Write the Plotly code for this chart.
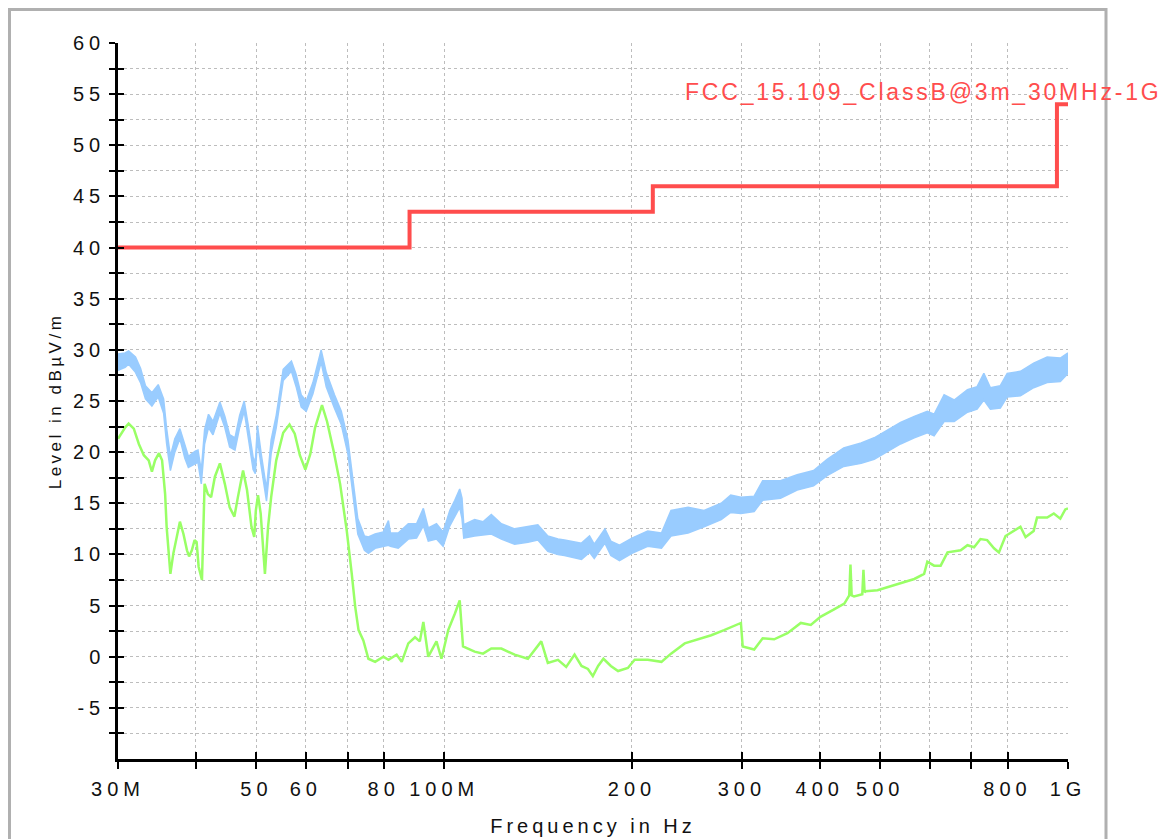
import math
import plotly.graph_objects as go

# ---------------- data (frequencies in MHz, levels in dBuV/m) ----------------
peak_freq_mhz = [30.0, 30.8, 31.2, 32.0, 32.6, 33.2, 34.0, 34.8, 35.5, 35.9, 36.4, 37.0, 37.7, 38.4, 38.9,
                 39.9, 40.3, 40.8, 41.3, 41.9, 42.6, 43.7, 44.5, 45.3, 46.2, 47.0, 47.8, 48.5, 49.4, 49.8,
                 50.2, 50.9, 51.9, 52.8, 53.8, 55.2, 56.9, 57.9, 59.0, 60.1, 61.6, 63.5, 64.7, 66.7, 68.4,
                 70.1, 71.4, 72.7, 74.5, 75.6, 77.5, 79.9, 81.4, 82.0, 84.4, 87.6, 90.3, 92.6, 94.3, 97.2,
                 99.6, 102.1, 104.0, 105.9, 106.8, 107.5, 111.9, 115.4, 119.0, 123.5, 129.7, 136.2, 141.3,
                 146.6, 152.2, 155.9, 163.8, 166.0, 171.0, 174.0, 181.0, 185.0, 191.0, 200.0, 212.0, 223.0,
                 231.0, 246.0, 261.0, 278.0, 288.0, 299.0, 314.0, 324.0, 346.0, 368.0, 391.0, 411.0, 437.0,
                 466.0, 489.0, 514.0, 539.0, 567.0, 595.0, 610.0, 633.0, 657.0, 690.0, 715.0, 733.0, 751.0,
                 779.0, 799.0, 839.0, 881.0, 926.0, 972.0, 1000.0]
peak_upper = [29.6, 29.7, 29.9, 29.3, 28.2, 26.5, 25.8, 26.6, 25.2, 22.3, 19.6, 21.3, 22.3, 20.6, 19.6,
              20.1, 20.2, 18.2, 22.2, 23.7, 23.0, 24.9, 23.5, 21.7, 21.4, 23.6, 25.0, 22.7, 19.5, 19.0,
              22.6, 19.8, 16.4, 21.2, 23.6, 28.1, 28.9, 27.6, 25.6, 25.0, 26.8, 30.0, 27.8, 25.6, 24.0,
              21.2, 17.4, 13.5, 11.8, 11.7, 12.0, 12.2, 13.3, 12.1, 12.1, 13.0, 13.0, 14.5, 12.6, 13.0,
              12.2, 14.3, 15.3, 16.4, 15.5, 12.9, 13.4, 13.2, 13.9, 13.0, 12.5, 12.7, 12.9,
              11.8, 11.5, 11.4, 11.2, 11.1, 11.8, 11.0, 12.5, 11.3, 10.9, 11.6, 12.3, 12.1,
              14.3, 14.6, 14.3, 15.0, 15.8, 15.6, 15.7, 17.2, 17.2, 17.8, 18.2, 19.3, 20.4,
              20.9, 21.4, 22.2, 22.9, 23.5, 24.0, 23.7, 25.6, 25.1, 26.1, 26.4, 27.7, 26.3,
              26.5, 27.7, 27.9, 28.7, 29.3, 29.2, 29.7]
peak_lower = [28.0, 28.3, 28.6, 27.8, 26.8, 25.2, 24.5, 25.4, 23.8, 20.8, 18.2, 20.0, 21.3, 19.4, 18.5,
              18.9, 19.0, 16.9, 20.8, 22.4, 21.7, 23.8, 22.4, 20.5, 20.2, 22.4, 24.0, 21.5, 18.3, 17.9,
              21.2, 18.6, 15.2, 19.9, 22.4, 27.0, 27.9, 26.4, 24.4, 24.0, 25.7, 28.8, 26.4, 24.3, 22.7,
              19.8, 15.8, 12.0, 10.4, 10.1, 10.6, 10.8, 10.9, 10.8, 10.6, 11.5, 11.6, 12.8, 11.3, 11.5,
              10.8, 12.8, 13.7, 14.6, 13.5, 11.6, 11.8, 11.9, 12.0, 11.5, 11.0, 11.2, 11.4,
              10.3, 10.0, 9.9, 9.6, 9.5, 10.2, 9.6, 11.1, 9.9, 9.4, 10.1, 10.8, 10.6,
              11.8, 12.1, 12.7, 13.4, 14.1, 14.0, 14.2, 15.3, 15.5, 16.3, 16.7, 17.7, 18.6,
              18.9, 19.3, 20.1, 20.8, 21.4, 21.9, 21.6, 23.0, 23.0, 23.9, 24.2, 25.1, 24.2,
              24.3, 25.4, 25.5, 26.3, 26.8, 26.9, 27.7]

avg_freq_mhz = [30.0, 30.8, 31.2, 31.8, 32.4, 33.0, 33.6, 34.0, 34.4, 34.9, 35.3, 35.7, 35.9, 36.1, 36.4,
                36.8, 37.3, 37.7, 38.2, 38.7, 39.0, 39.4, 39.8, 40.1, 40.4, 40.9, 41.3, 41.8, 42.3, 42.9,
                43.7, 44.5, 45.3, 46.1, 46.7, 47.6, 48.3, 49.1, 49.6, 49.9, 50.3, 50.8, 51.6, 52.2, 52.8,
                53.8, 55.2, 56.5, 57.6, 58.7, 59.9, 61.0, 62.1, 63.7, 64.9, 66.5, 68.1, 69.8, 71.1, 72.0,
                72.9, 74.2, 75.6, 77.5, 79.9, 81.4, 83.9, 85.5, 87.6, 89.8, 91.4, 92.6, 94.3, 97.2, 99.0,
                101.5, 104.0, 105.9, 107.2, 111.9, 115.4, 119.0, 123.5, 129.7, 136.2, 143.1, 146.6, 152.2,
                156.9, 161.8, 166.0, 170.0, 173.1, 176.5, 180.0, 185.0, 190.0, 197.0, 202.0, 212.0, 223.0,
                231.0, 243.0, 255.0, 268.0, 281.0, 295.0, 299.0, 301.0, 314.0, 324.0, 338.0, 355.0, 373.0,
                387.0, 401.0, 421.0, 438.0, 446.0, 448.0, 450.0, 454.0, 468.0, 470.0, 472.0, 474.0, 495.0,
                514.0, 539.0, 567.0, 588.0, 595.0, 610.0, 625.0, 641.0, 673.0, 690.0, 707.0, 724.0, 742.0,
                761.0, 775.0, 794.0, 819.0, 839.0, 855.0, 881.0, 892.0, 926.0, 949.0, 972.0, 990.0, 1000.0]
avg_level = [21.3, 22.4, 22.8, 22.3, 20.8, 19.7, 19.2, 18.1, 19.2, 19.9, 19.2, 15.9, 12.7, 10.4, 8.1,
             10.1, 12.0, 13.2, 12.0, 10.4, 9.8, 10.4, 11.4, 11.2, 8.8, 7.5, 16.9, 15.9, 15.6, 17.6,
             18.9, 16.9, 14.6, 13.7, 15.6, 18.2, 16.3, 12.7, 11.7, 14.3, 15.8, 14.0, 8.1, 12.7, 15.6,
             19.2, 21.9, 22.7, 21.8, 19.7, 18.3, 19.8, 22.4, 24.6, 23.0, 20.1, 16.9, 12.3, 8.1, 4.9,
             2.6, 1.6, -0.2, -0.5, 0.0, -0.3, 0.2, -0.5, 1.3, 1.9, 1.5, 3.4, 0.0, 1.5, -0.2,
             2.6, 4.2, 5.5, 1.0, 0.5, 0.3, 0.8, 0.8, 0.2, -0.2, 1.5, -0.6, -0.3,
             -1.0, 0.2, -0.9, -1.2, -1.9, -0.9, -0.2, -0.9, -1.4, -1.1, -0.3, -0.3, -0.5,
             0.3, 1.3, 1.7, 2.1, 2.6, 3.1, 3.3, 1.0, 0.7, 1.8, 1.7, 2.3, 3.3,
             3.1, 3.9, 4.6, 5.2, 6.0, 9.0, 6.0, 5.9, 6.1, 8.5, 6.3, 6.4, 6.5,
             6.8, 7.2, 7.6, 8.1, 9.3, 8.9, 8.9, 10.2, 10.4, 10.9, 10.7, 11.5, 11.4,
             10.6, 10.2, 11.8, 12.3, 12.7, 11.7, 12.3, 13.6, 13.6, 14.0, 13.5, 14.4, 14.5]

limit_freq_mhz = [30.0, 88.0, 216.0, 960.0, 1000.0]
limit_level = [40.0, 43.5, 46.0, 54.0, 54.0]
limit_name = "FCC_15.109_ClassB@3m_30MHz-1GHz"

x_tickvals = [30, 40, 50, 60, 70, 80, 100, 200, 300, 400, 500, 600, 700, 800, 1000]
x_ticktext = ["30M", "", "50", "60", "", "80", "100M", "200", "300", "400", "500", "", "", "800", "1G"]
y_tickvals = [-7.5 + 2.5 * i for i in range(28)]
y_ticktext = [("%g" % v) if v % 5 == 0 else "" for v in y_tickvals]

# ---------------- styling ----------------
FONT = "Liberation Sans, Arial, sans-serif"
TXT = "#111111"
BLUE = "#99CCFF"
GREEN = "#99FF66"
RED = "#FF4D4D"
GRID = "#bdbdbd"

# plot area on screen (page has an 8px body margin): x 118..1068, y 43..759
L, R, T, B = 110, 108, 35, 88
PW, PH = 950.0, 716.0


def spaced(s, px):
    return '<span style="letter-spacing:%spx">%s</span>' % (px, s) if s else ""


fig = go.Figure()

# peak (blue band)
fig.add_trace(go.Scatter(x=peak_freq_mhz, y=peak_lower, mode="lines",
                         line=dict(color=BLUE, width=1.5), showlegend=False, hoverinfo="skip"))
fig.add_trace(go.Scatter(x=peak_freq_mhz, y=peak_upper, mode="lines", fill="tonexty",
                         fillcolor=BLUE, line=dict(color=BLUE, width=1.5), showlegend=False,
                         hoverinfo="skip"))
# average (green)
fig.add_trace(go.Scatter(x=avg_freq_mhz, y=avg_level, mode="lines",
                         line=dict(color=GREEN, width=2.5), showlegend=False))
# limit line (red)
fig.add_trace(go.Scatter(x=limit_freq_mhz, y=limit_level, mode="lines", line_shape="hv",
                         line=dict(color=RED, width=4), showlegend=False, name=limit_name))
# helper trace so the overlay axes (inside half of the crossing ticks) are drawn
fig.add_trace(go.Scatter(x=[], y=[], xaxis="x2", yaxis="y2", showlegend=False))

xr = [math.log10(30), 3]
yr = [-10, 60]

fig.update_layout(
    width=1168, height=839,
    margin=dict(l=L, r=R, t=T, b=B),
    paper_bgcolor="white", plot_bgcolor="white",
    font=dict(family=FONT, color=TXT),
    xaxis=dict(
        type="log", range=xr, tickmode="array", tickvals=x_tickvals,
        ticktext=[spaced(t, 5) for t in x_ticktext],
        ticks="outside", ticklen=7, tickwidth=2, tickcolor="black",
        tickfont=dict(size=20, family=FONT, color=TXT), ticklabelstandoff=3,
        showline=True, linewidth=2.5, linecolor="black", mirror=False,
        showgrid=True, gridcolor=GRID, griddash="dot", gridwidth=1,
        zeroline=False, automargin=False,
        title=dict(text=spaced("Frequency in Hz", 4), font=dict(size=20, family=FONT, color=TXT),
                   standoff=21),
    ),
    yaxis=dict(
        range=yr, tickmode="array", tickvals=y_tickvals,
        ticktext=[spaced(t, 5) for t in y_ticktext],
        ticks="outside", ticklen=6, tickwidth=2, tickcolor="black",
        tickfont=dict(size=20, family=FONT, color=TXT), ticklabelstandoff=0,
        showline=True, linewidth=2.5, linecolor="black",
        showgrid=True, gridcolor=GRID, griddash="dot", gridwidth=1,
        zeroline=False, automargin=False,
        title=dict(text=spaced("Level in dBµV/m", 3.5), font=dict(size=17, family=FONT, color=TXT),
                   standoff=8),
    ),
    xaxis2=dict(
        type="log", range=xr, overlaying="x", anchor="y2", side="bottom",
        tickmode="array", tickvals=x_tickvals, ticks="inside", ticklen=7, tickwidth=2,
        tickcolor="black", showticklabels=False, showgrid=False, showline=False,
        zeroline=False, automargin=False,
    ),
    yaxis2=dict(
        range=yr, overlaying="y", anchor="x2", side="left",
        tickmode="array", tickvals=y_tickvals, ticks="inside", ticklen=6, tickwidth=2,
        tickcolor="black", showticklabels=False, showgrid=False, showline=False,
        zeroline=False, automargin=False,
    ),
    annotations=[dict(
        text=spaced(limit_name, 2.8), xref="paper", yref="paper",
        x=(683 - 118) / PW, y=(759 - 92) / PH, xanchor="left", yanchor="middle",
        showarrow=False, font=dict(size=23, family=FONT, color=RED),
    )],
    shapes=[dict(
        type="rect", xref="paper", yref="paper",
        x0=(9.5 - 118) / PW, x1=(1106 - 118) / PW, y0=-0.25, y1=(759 - 9.5) / PH,
        line=dict(color="#b0b0b0", width=3), fillcolor="rgba(0,0,0,0)", layer="above",
    )],
)

fig.write_html("out.html")
